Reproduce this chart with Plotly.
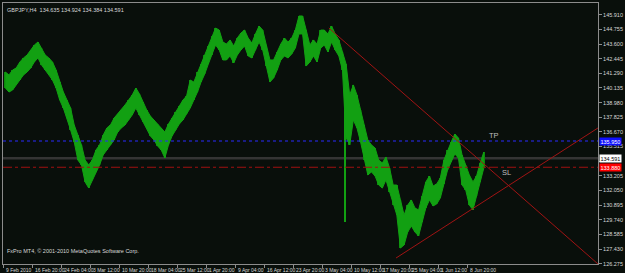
import plotly.graph_objects as go

# ---------------- data ----------------
title_text = "GBPJPY,H4  134.635 134.924 134.384 134.591"
copyright_text = "FxPro MT4, \u00a9 2001-2010 MetaQuotes Software Corp."

# one sample per 4 H4 bars (high / low of each group)
highs = [141.39, 141.16, 141.55, 141.71, 142.18, 142.50, 142.73, 143.13, 143.52, 143.76,
         143.28, 142.73, 142.50, 142.18, 141.55, 140.60, 139.81, 139.18, 138.55, 137.21,
         136.42, 135.64, 134.45, 134.06, 134.45, 135.24, 135.64, 136.42, 136.98, 137.21,
         137.76, 138.08, 138.40, 138.79, 139.18, 139.58, 140.13, 139.66, 139.03, 138.40,
         137.92, 137.61, 137.29, 136.98, 136.66, 137.29, 137.76, 138.24, 138.71, 139.18,
         139.50, 140.76, 140.60, 141.39, 142.02, 142.73, 143.44, 144.23, 144.86, 144.70,
         143.76, 143.60, 143.92, 143.44, 144.07, 144.47, 144.70, 144.07, 143.68, 144.39,
         145.02, 144.70, 143.44, 142.34, 142.34, 142.97, 143.60, 144.07, 143.76, 144.07,
         144.70, 145.81, 145.81, 144.70, 143.52, 143.92, 143.60, 144.70, 144.70, 144.39,
         145.02, 144.39, 143.92, 142.97, 142.02, 139.58, 140.37, 139.58, 138.40, 137.21,
         136.03, 135.64, 135.40, 134.45, 134.22, 134.69, 133.82, 132.48, 132.48, 131.30,
         130.11, 130.90, 131.30, 130.67, 130.51, 131.61, 132.72, 133.19, 132.40, 132.56,
         133.03, 134.45, 135.24, 135.87, 136.50, 136.19, 134.85, 134.06, 133.27, 132.72,
         133.19, 134.22, 135.08]
lows = [140.13, 139.81, 139.97, 140.37, 140.76, 141.16, 141.39, 141.71, 142.18, 142.50,
        141.94, 141.55, 141.16, 140.76, 140.13, 139.18, 138.55, 137.76, 136.82, 135.87,
        134.45, 134.06, 132.72, 132.24, 132.88, 133.51, 134.06, 134.85, 135.24, 135.64,
        136.03, 136.66, 136.98, 137.21, 137.61, 138.00, 138.55, 138.00, 137.45, 136.98,
        136.35, 136.03, 135.56, 135.24, 134.61, 135.64, 136.35, 136.82, 137.29, 137.61,
        138.08, 138.55, 139.18, 139.81, 140.60, 141.23, 142.02, 142.73, 143.52, 143.13,
        142.34, 142.34, 142.65, 142.10, 142.73, 143.13, 143.44, 142.65, 142.50, 143.13,
        143.76, 143.13, 141.86, 140.60, 140.92, 141.55, 142.34, 142.65, 142.50, 142.81,
        143.28, 144.39, 144.39, 141.86, 142.18, 142.65, 142.18, 143.28, 143.52, 142.97,
        143.76, 143.13, 142.65, 141.55, 136.20, 135.64, 137.61, 136.98, 135.87, 134.45,
        133.27, 133.51, 133.19, 132.48, 132.24, 132.88, 131.93, 130.90, 130.11, 127.51,
        127.75, 128.77, 129.25, 128.77, 128.46, 129.56, 130.67, 131.30, 130.83, 130.98,
        131.46, 132.56, 133.66, 134.30, 134.93, 134.61, 132.48, 132.09, 130.90, 130.51,
        131.61, 132.72, 133.82]
sample_bar = list(range(2, 2 + 4 * len(highs), 4))   # H4 bar index of each sample

# the 6 May flash-crash wick (single H4 bar)
wick_bar = [377]
wick_high = [139.40]
wick_low = [129.56]

x_tick_bars = [0, 32, 64, 96, 128, 160, 192, 224, 256, 288, 320, 352, 384, 416, 448, 480, 512]
x_tick_labels = ["9 Feb 2010", "16 Feb 20:00", "24 Feb 04:00", "3 Mar 12:00", "10 Mar 20:00",
                 "18 Mar 04:00", "25 Mar 12:00", "1 Apr 20:00", "9 Apr 04:00", "16 Apr 12:00",
                 "23 Apr 20:00", "3 May 04:00", "10 May 12:00", "17 May 20:00", "25 May 04:00",
                 "1 Jun 12:00", "8 Jun 20:00"]

y_tick_values = [145.910, 144.755, 143.600, 142.445, 141.290, 140.135, 138.980, 137.825,
                 136.670, 135.515, 134.360, 133.205, 132.050, 130.895, 129.740, 128.585,
                 127.430, 126.275]

bid_price = 134.591
tp_level = 135.950
sl_level = 133.880

trend_down_bars = [359, 656]
trend_down_prices = [144.86, 126.25]
trend_up_bars = [433.1, 656]
trend_up_prices = [126.72, 136.98]

note_texts = ["TP", "SL"]
note_bars = [541, 555]
note_prices = [136.42, 133.43]

# ---------------- style ----------------
BG = "#090f0b"
GREEN = "#12a012"
AXIS = "#8c8c8c"
TXT = "#d8d8d8"
FONT = "Liberation Sans"

fig = go.Figure()
# price band (high/low envelope)
fig.add_trace(go.Scatter(x=sample_bar, y=lows, mode="lines",
                         line=dict(color=GREEN, width=1), showlegend=False, hoverinfo="skip"))
fig.add_trace(go.Scatter(x=sample_bar, y=highs, mode="lines", fill="tonexty",
                         fillcolor=GREEN, line=dict(color=GREEN, width=1),
                         showlegend=False, hoverinfo="skip"))
# bar texture
fig.add_trace(go.Bar(
    x=sample_bar,
    y=[h - l for h, l in zip(highs, lows)],
    base=lows,
    width=1.6,
    marker=dict(color="#0c8a0c", line=dict(width=0)),
    showlegend=False,
    hoverinfo="skip",
))
fig.add_trace(go.Bar(
    x=wick_bar, y=[h - l for h, l in zip(wick_high, wick_low)], base=wick_low,
    width=1.3, marker=dict(color=GREEN, line=dict(width=0)),
    showlegend=False, hoverinfo="skip",
))

# trend lines
for bx, py in [(trend_down_bars, trend_down_prices), (trend_up_bars, trend_up_prices)]:
    fig.add_trace(go.Scatter(x=bx, y=py, mode="lines",
                             line=dict(color="#a01414", width=1),
                             showlegend=False, hoverinfo="skip"))

# horizontal levels
fig.add_hline(y=bid_price, line=dict(color="#343434", width=2.5), layer="below")
fig.add_hline(y=tp_level, line=dict(color="#2a2aff", width=1, dash="dot"))
fig.add_hline(y=sl_level, line=dict(color="#a01010", width=1, dash="dashdot"))

annotations = []
for b, t in zip(x_tick_bars, x_tick_labels):
    annotations.append(dict(x=b, xref="x", y=0, yref="paper", text=t, showarrow=False,
                            xanchor="left", yanchor="top", xshift=0, yshift=-1,
                            font=dict(family=FONT, size=5, color=TXT)))
for lvl, bg, fc in [(tp_level, "#1010ff", "#ffffff"),
                    (bid_price, "#ffffff", "#000000"),
                    (sl_level, "#ff0000", "#ffffff")]:
    annotations.append(dict(x=1, xref="paper", y=lvl, yref="y", text=f"{lvl:.3f}",
                            showarrow=False, xanchor="left", yanchor="middle", xshift=1,
                            bgcolor=bg, borderpad=0.5,
                            font=dict(family=FONT, size=5.5, color=fc)))
for t, b, p in zip(note_texts, note_bars, note_prices):
    annotations.append(dict(x=b, y=p, text=t, showarrow=False,
                            font=dict(family=FONT, size=7.5, color="#bdbdbd")))
annotations.append(dict(x=0, xref="paper", y=1, yref="paper", text=title_text, showarrow=False,
                        xanchor="left", yanchor="top", xshift=2, yshift=-2,
                        font=dict(family=FONT, size=5.5, color=TXT)))
annotations.append(dict(x=0, xref="paper", y=0, yref="paper", text=copyright_text, showarrow=False,
                        xanchor="left", yanchor="bottom", xshift=2, yshift=8,
                        font=dict(family=FONT, size=5.5, color=TXT)))

# the bid price box covers the 134.360 tick label, as on the terminal
y_tick_text = ["" if abs(v - bid_price) < 0.5 else f"{v:.3f}" for v in y_tick_values]

fig.update_layout(
    width=625, height=273,
    margin=dict(l=2, r=22, t=3, b=9, pad=0),
    paper_bgcolor=BG, plot_bgcolor=BG,
    showlegend=False, barmode="overlay",
    annotations=annotations,
    xaxis=dict(range=[-0.6, 656], showgrid=False, zeroline=False,
               tickmode="array", tickvals=x_tick_bars, ticks="outside", ticklen=3,
               tickcolor=AXIS, showticklabels=False,
               showline=True, linecolor=AXIS, linewidth=1, mirror=True),
    yaxis=dict(range=[126.25, 146.833], side="right", showgrid=False, zeroline=False,
               tickmode="array", tickvals=y_tick_values, ticktext=y_tick_text,
               ticks="outside", ticklen=3, tickcolor=AXIS,
               tickfont=dict(family=FONT, size=5.5, color=TXT),
               showline=True, linecolor=AXIS, linewidth=1, mirror=True),
)

fig.write_html("out.html")
